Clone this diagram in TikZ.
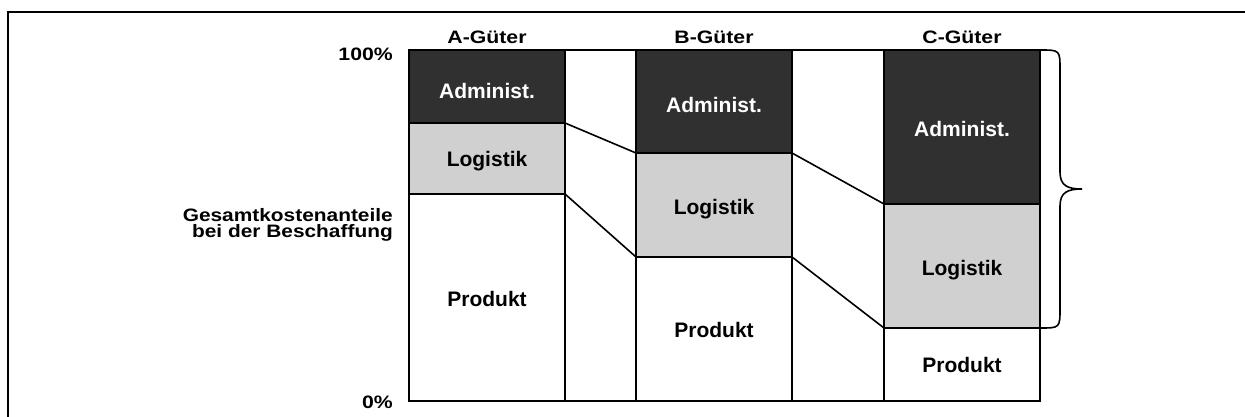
\documentclass[tikz,border=0pt]{standalone}
\usepackage{fontspec}
\setmainfont{Liberation Sans}
\usepackage{graphicx}
\definecolor{adm}{RGB}{48,48,48}
\definecolor{logi}{RGB}{208,208,208}
\begin{document}
\begin{tikzpicture}[x=1pt,y=-1pt,
  seg/.style={draw=black, line width=2pt, inner sep=0pt, outer sep=0pt, minimum width=156pt},
  admseg/.style={seg, fill=adm},
  logseg/.style={seg, fill=logi},
  prodseg/.style={seg, fill=white},
  barlabel/.style={font=\bfseries\fontsize{21}{21}\selectfont, anchor=base, inner sep=0pt},
  axlabel/.style={font=\bfseries\fontsize{18}{18}\selectfont, inner sep=0pt},
  link/.style={line width=1.6pt},
  frameline/.style={line width=2pt}]
\useasboundingbox (0,0) rectangle (1245,417);
% frame
\draw[frameline] (7.5,417) -- (7.5,12) -- (1245,12);
% bar A
\node[admseg, minimum height=73pt] (Aadm) at (487,86.5) {};
\node[logseg, minimum height=71pt] (Alog) at (487,158.5) {};
\node[prodseg, minimum height=207pt] (Aprod) at (487,297.5) {};
% bar B
\node[admseg, minimum height=103pt] (Badm) at (714,101.5) {};
\node[logseg, minimum height=104pt] (Blog) at (714,205) {};
\node[prodseg, minimum height=144pt] (Bprod) at (714,329) {};
% bar C
\node[admseg, minimum height=154pt] (Cadm) at (962,127) {};
\node[logseg, minimum height=124pt] (Clog) at (962,266) {};
\node[prodseg, minimum height=73pt] (Cprod) at (962,364.5) {};
% gap borders
\draw[link] (Aadm.north east) -- (Badm.north west);
\draw[link] (Aprod.south east) -- (Bprod.south west);
\draw[link] (Badm.north east) -- (Cadm.north west);
\draw[link] (Bprod.south east) -- (Cprod.south west);
% connectors
\draw[link] (Aadm.south east) -- (Badm.south west);
\draw[link] (Alog.south east) -- (Blog.south west);
\draw[link] (Badm.south east) -- (Cadm.south west);
\draw[link] (Blog.south east) -- (Clog.south west);
% labels in bars
\node[barlabel, text=white] (tAadm) at (487,99) {Administ.};
\node[barlabel] (tAlog) at (487,166.5) {Logistik};
\node[barlabel] (tAprod) at (487,306.5) {Produkt};
\node[barlabel, text=white] (tBadm) at (714,112.5) {Administ.};
\node[barlabel] (tBlog) at (714,214.5) {Logistik};
\node[barlabel] (tBprod) at (714,337.5) {Produkt};
\node[barlabel, text=white] (tCadm) at (962,136.5) {Administ.};
\node[barlabel] (tClog) at (962,275.5) {Logistik};
\node[barlabel] (tCprod) at (962,372) {Produkt};
% headers
\node[axlabel, anchor=base] (hA) at (487,44) {\scalebox{1.18}[1]{A-Güter}};
\node[axlabel, anchor=base] (hB) at (714,44) {\scalebox{1.18}[1]{B-Güter}};
\node[axlabel, anchor=base] (hC) at (962,44) {\scalebox{1.18}[1]{C-Güter}};
% axis labels
\node[axlabel, anchor=base east] (p100) at (393,61) {\scalebox{1.18}[1]{100\%}};
\node[axlabel, anchor=base east] (p0) at (393,408) {\scalebox{1.18}[1]{0\%}};
\node[axlabel, anchor=base east] (g1) at (393,221) {\scalebox{1.16}[1]{Gesamtkostenanteile}};
\node[axlabel, anchor=base east] (g2) at (393,237) {\scalebox{1.16}[1]{bei der Beschaffung}};
% brace
\draw[link] (Cadm.north east) .. controls (1060,50) and (1060,50) .. (1060,70)
  -- (1060,172) .. controls (1060,186) and (1068,189) .. (1082,189)
  .. controls (1068,189) and (1060,192) .. (1060,206)
  -- (1060,308) .. controls (1060,328) and (1060,328) .. (Clog.south east);
\end{tikzpicture}
\end{document}
